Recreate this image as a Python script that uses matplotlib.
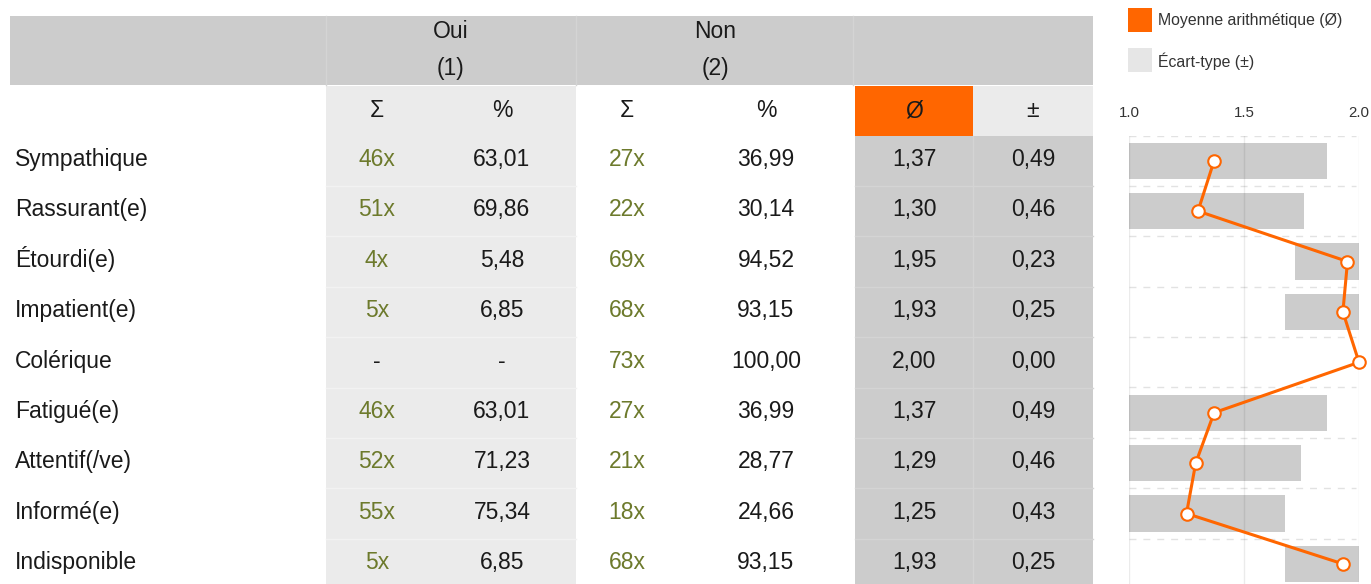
import matplotlib.pyplot as plt
from matplotlib.patches import Rectangle

plt.rcParams["font.family"] = ["Liberation Sans", "DejaVu Sans"]

labels = ["Sympathique", "Rassurant(e)", "Étourdi(e)", "Impatient(e)", "Colérique",
          "Fatigué(e)", "Attentif(/ve)", "Informé(e)", "Indisponible"]
oui_n = [46, 51, 4, 5, 0, 46, 52, 55, 5]
oui_pct = [63.01, 69.86, 5.48, 6.85, 0.0, 63.01, 71.23, 75.34, 6.85]
non_n = [27, 22, 69, 68, 73, 27, 21, 18, 68]
non_pct = [36.99, 30.14, 94.52, 93.15, 100.00, 36.99, 28.77, 24.66, 93.15]
means = [1.37, 1.30, 1.95, 1.93, 2.00, 1.37, 1.29, 1.25, 1.93]
sds = [0.49, 0.46, 0.23, 0.25, 0.00, 0.49, 0.46, 0.43, 0.25]
groups = ["Oui", "Non"]
group_codes = ["(1)", "(2)"]
ticks = [1.0, 1.5, 2.0]

ORANGE = "#ff6600"
OLIVE = "#6d7a2c"
TXT = "#1a1a1a"
W, H = 1371, 584


def fmt_num(v):
    return "-" if v == 0 else f"{v:.2f}".replace(".", ",")


def fmt_count(v):
    return "-" if v == 0 else f"{v}x"


fig = plt.figure(figsize=(W / 100, H / 100), dpi=100)
tab = fig.add_axes([0, 0, 1, 1])
tab.set_xlim(0, W)
tab.set_ylim(H, 0)
tab.axis("off")

row_top = 135.5
row_h = 50.4
n = len(labels)
fs = 16.5
base = 8  # baseline offset below visual centre, px


def put(x, yc, s, ha="center", color=TXT):
    tab.text(x, yc + base, s, ha=ha, va="baseline", fontsize=fs, color=color)


# backgrounds
tab.add_patch(Rectangle((10, 16), 1083, 69, color="#cccccc", lw=0))
for x in [326, 576, 853]:
    tab.plot([x, x], [16, 85], color="#d4d4d4", lw=1)
tab.add_patch(Rectangle((326, 86), 250, H, color="#ebebeb", lw=0))
tab.add_patch(Rectangle((855, 86), 118, 50, color=ORANGE, lw=0))
tab.add_patch(Rectangle((973, 86), 120, 50, color="#ebebeb", lw=0))
tab.add_patch(Rectangle((855, row_top), 238, H, color="#cccccc", lw=0))
tab.plot([973, 973], [row_top, H], color="#d4d4d4", lw=1)
for i in range(1, n):
    yb = row_top + i * row_h
    tab.plot([326, 576], [yb, yb], color="#f2f2f2", lw=1)
    tab.plot([855, 1093], [yb, yb], color="#d4d4d4", lw=1)

# header texts
gx = [451, 715]
for x, g, c in zip(gx, groups, group_codes):
    put(x, 30, g)
    put(x, 67, c)
cols = [377, 502, 627, 766, 914, 1033]
for x, s in zip(cols, ["Σ", "%", "Σ", "%", "Ø", "±"]):
    put(x, 109, s)

# table body
for i in range(n):
    yc = row_top + i * row_h + 22.5
    put(15, yc, labels[i], ha="left")
    put(cols[0], yc, fmt_count(oui_n[i]), color=OLIVE if oui_n[i] else TXT)
    put(cols[1], yc, fmt_num(oui_pct[i]))
    put(cols[2], yc, fmt_count(non_n[i]), color=OLIVE)
    put(cols[3], yc, fmt_num(non_pct[i]))
    put(cols[4], yc, f"{means[i]:.2f}".replace(".", ","))
    put(cols[5], yc, f"{sds[i]:.2f}".replace(".", ","))

# legend
tab.add_patch(Rectangle((1128, 8), 24, 24, color=ORANGE, lw=0))
tab.text(1158, 20, "Moyenne arithmétique (Ø)", ha="left", va="center", fontsize=11.4, color="#333333")
tab.add_patch(Rectangle((1128, 48), 24, 24, color="#e6e6e6", lw=0))
tab.text(1158, 61, "Écart-type (±)", ha="left", va="center", fontsize=11.4, color="#333333")

# chart on the right
x0, x1 = 1129, 1359
ax = fig.add_axes([x0 / W, (H - row_top - n * row_h) / H, (x1 - x0) / W, n * row_h / H])
ax.set_xlim(1, 2)
ax.set_ylim(n - 0.5, -0.5)
ys = list(range(n))
lefts = [max(1.0, m - s) for m, s in zip(means, sds)]
rights = [min(2.0, m + s) for m, s in zip(means, sds)]
ax.barh(ys, [r - l for l, r in zip(lefts, rights)], left=lefts, height=0.72,
        color="#cccccc", zorder=1)
for t in ticks:
    ax.axvline(t, color="black", alpha=0.08, lw=1, zorder=2)
for i in range(n + 1):
    ax.axhline(i - 0.5, xmax=0.985, color="#e2e2e2", lw=1, ls=(0, (5, 5)), zorder=0)
ax.plot(means, ys, color=ORANGE, lw=2.2, marker="o", ms=9, mfc="white", mec=ORANGE,
        mew=1.5, zorder=4, clip_on=False)
ax.xaxis.tick_top()
ax.set_xticks(ticks)
ax.set_xticklabels([f"{t:.1f}" for t in ticks])
ax.tick_params(axis="x", length=0, pad=11, labelsize=10.8, labelcolor="#333333")
ax.set_yticks([])
for sp in ax.spines.values():
    sp.set_visible(False)
ax.patch.set_alpha(0)

fig.savefig("out.png", dpi=100)
